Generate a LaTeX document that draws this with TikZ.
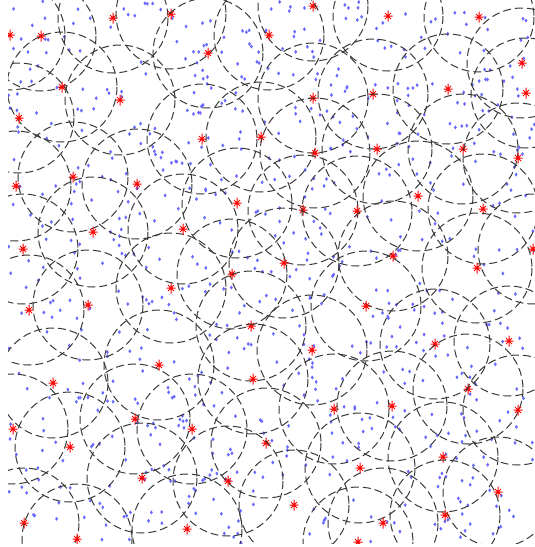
\documentclass[tikz,border=0pt]{standalone}
\usepackage{tikz}
\definecolor{titikbiru}{RGB}{105,105,255}
\begin{document}
\begin{tikzpicture}[x=1pt, y=-1pt,
    liputan/.style={draw=black!78, dash pattern=on 8pt off 4pt, line width=1pt},
    titik/.style={fill=titikbiru, draw=none},
    bintang/.style={draw=red, line width=1pt}
  ]
  \useasboundingbox (0,0) rectangle (535,547);
  \begin{scope}
    \clip (8,0) rectangle (535,543);
    % titik sensor acak
    \pgfmathsetseed{2718}
    \foreach \i in {1,...,760}{
      \pgfmathsetmacro{\px}{8+527*rnd}
      \pgfmathsetmacro{\py}{543*rnd}
      \fill[titik] (\px,\py-2) -- (\px+1.5,\py) -- (\px,\py+2) -- (\px-1.5,\py) -- cycle;
    }
    % pusat dan jangkauan
    \foreach \a/\b in {113/18, 171/14, 10/35, 41/36, 62/87, 120/100, 19/118, 73/177,
        313/6, 269/35, 208/53, 313/98, 202/139, 261/137, 315/153,
        388/16, 479/17, 522/63, 373/94, 448/89, 526/93, 377/149, 463/149, 518/158,
        16/186, 137/184, 93/232, 23/249, 171/288, 88/305, 29/310,
        237/203, 303/210, 357/211, 183/229, 284/263, 232/274, 251/326, 312/350,
        418/196, 483/209, 393/256, 477/268, 533/249, 366/306, 435/344, 509/341,
        159/365, 53/383, 135/419, 13/429, 70/447, 142/478, 24/523, 77/539,
        253/379, 334/409, 192/429, 266/443, 360/468, 228/481, 294/505, 187/529, 358/542,
        468/389, 392/406, 518/410, 443/457, 498/492, 445/515, 383/523}{
      \draw[liputan] (\a,\b) circle (55);
      \draw[bintang] (\a-4.5,\b) -- (\a+4.5,\b) (\a,\b-5.5) -- (\a,\b+5.5)
        (\a-3,\b-3) -- (\a+3,\b+3) (\a-3,\b+3) -- (\a+3,\b-3);
    }
  \end{scope}
\end{tikzpicture}
\end{document}
